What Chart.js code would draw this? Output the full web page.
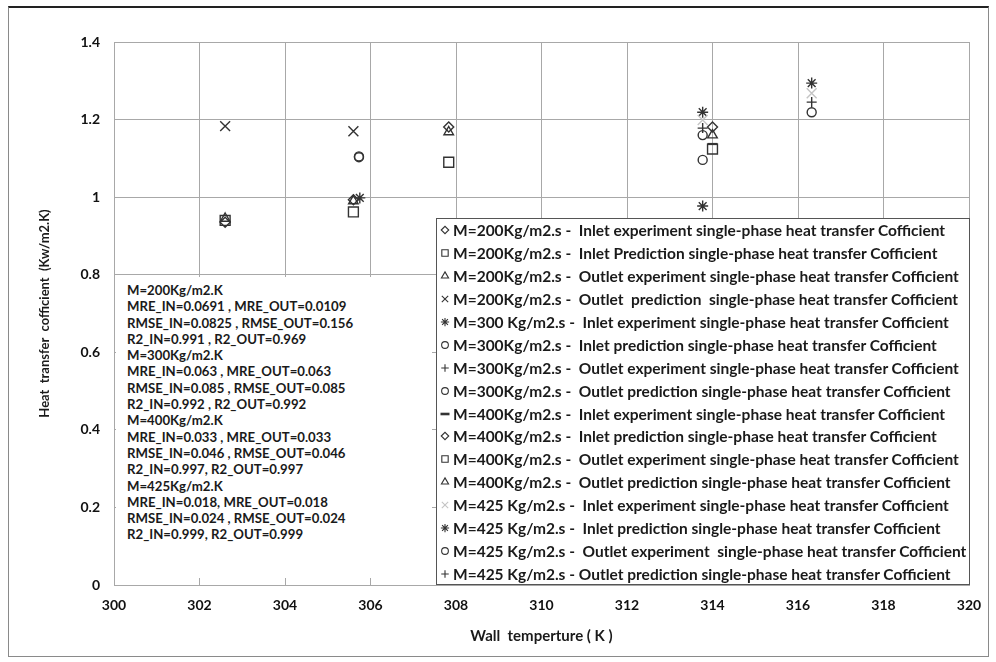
<!DOCTYPE html>
<html>
<head>
<meta charset="utf-8">
<script src="https://cdn.jsdelivr.net/npm/chart.js@4.4.1/dist/chart.umd.min.js"></script>
<style>
    html, body { margin: 0; padding: 0; background: #fff; }
    #wrap { position: relative; width: 996px; height: 662px; overflow: hidden; }
    #chart { position: absolute; left: 0; top: 0; }
    #frame { position: absolute; left: 8px; top: 6px; width: 979px; height: 648px; border: 1px solid #8a8a8a; border-top: 2px solid #222; pointer-events: none; }
    #stats { position: absolute; left: 116px; top: 277px; width: 316px; height: 301px; background: #fff;
             font: bold 13.2px Lato, sans-serif; line-height: 16.3px; color: #1a1a1a; padding: 5px 0 0 11px; box-sizing: border-box; white-space: pre; }
    #legend { position: absolute; left: 436px; top: 218px; width: 534px; height: 367px; background: #fff;
              border: 1px solid #555; box-sizing: border-box; font: bold 15.5px Lato, sans-serif; color: #1a1a1a; padding-top: 0px; }
    .row { height: 22.9px; display: flex; align-items: center; white-space: pre; }
    .row canvas { margin: 0 2px 0 2px; }
</style>
</head>
<body>
<div id="wrap">
    <canvas id="chart" width="996" height="662"></canvas>
    <div id="stats"></div>
    <div id="legend"></div>
    <div id="frame"></div>
</div>
<script>
    // axis ticks
    const xTickLabels = ['300', '302', '304', '306', '308', '310', '312', '314', '316', '318', '320'];
    const yTickLabels = ['0', '0.2', '0.4', '0.6', '0.8', '1', '1.2', '1.4'];

    // [wall temperature (K), heat transfer coefficient (kW/m2.K)]
    const m200InletExp   = [[302.6, 0.935], [305.6, 0.993]];
    const m200InletPred  = [[302.6, 0.94], [305.6, 0.962]];
    const m200OutletExp  = [[302.6, 0.945], [305.6, 0.99]];
    const m200OutletPred = [[302.6, 1.183], [305.6, 1.17]];
    const m300InletExp   = [[305.75, 0.998], [313.77, 0.977]];
    const m300InletPred  = [[305.73, 1.103], [313.77, 1.096]];
    const m300OutletExp  = [[313.77, 1.178]];
    const m300OutletPred = [[305.73, 1.105], [313.77, 1.16]];
    const m400InletExp   = [[314.0, 1.137]];
    const m400InletPred  = [[307.83, 1.181], [314.0, 1.181]];
    const m400OutletExp  = [[307.83, 1.09], [314.0, 1.124]];
    const m400OutletPred = [[307.83, 1.168], [314.0, 1.16]];
    const m425InletExp   = [[313.77, 1.199], [316.32, 1.268]];
    const m425InletPred  = [[313.77, 1.219], [316.32, 1.294]];
    const m425OutletExp  = [[316.32, 1.219]];
    const m425OutletPred = [[316.32, 1.245]];

    const seriesLabels = [
        'M=200Kg/m2.s -  Inlet experiment single-phase heat transfer Cofficient',
        'M=200Kg/m2.s -  Inlet Prediction single-phase heat transfer Cofficient',
        'M=200Kg/m2.s -  Outlet experiment single-phase heat transfer Cofficient',
        'M=200Kg/m2.s -  Outlet  prediction  single-phase heat transfer Cofficient',
        'M=300 Kg/m2.s -  Inlet experiment single-phase heat transfer Cofficient',
        'M=300Kg/m2.s -  Inlet prediction single-phase heat transfer Cofficient',
        'M=300Kg/m2.s -  Outlet experiment single-phase heat transfer Cofficient',
        'M=300Kg/m2.s -  Outlet prediction single-phase heat transfer Cofficient',
        'M=400Kg/m2.s -  Inlet experiment single-phase heat transfer Cofficient',
        'M=400Kg/m2.s -  Inlet prediction single-phase heat transfer Cofficient',
        'M=400Kg/m2.s -  Outlet experiment single-phase heat transfer Cofficient',
        'M=400Kg/m2.s -  Outlet prediction single-phase heat transfer Cofficient',
        'M=425 Kg/m2.s -  Inlet experiment single-phase heat transfer Cofficient',
        'M=425 Kg/m2.s -  Inlet prediction single-phase heat transfer Cofficient',
        'M=425 Kg/m2.s -  Outlet experiment  single-phase heat transfer Cofficient',
        'M=425 Kg/m2.s - Outlet prediction single-phase heat transfer Cofficient'
    ];
    const seriesData = [m200InletExp, m200InletPred, m200OutletExp, m200OutletPred,
                        m300InletExp, m300InletPred, m300OutletExp, m300OutletPred,
                        m400InletExp, m400InletPred, m400OutletExp, m400OutletPred,
                        m425InletExp, m425InletPred, m425OutletExp, m425OutletPred];

    const statsLines = [
        'M=200Kg/m2.K',
        'MRE_IN=0.0691 , MRE_OUT=0.0109',
        'RMSE_IN=0.0825 , RMSE_OUT=0.156',
        'R2_IN=0.991 , R2_OUT=0.969',
        'M=300Kg/m2.K',
        'MRE_IN=0.063 , MRE_OUT=0.063',
        'RMSE_IN=0.085 , RMSE_OUT=0.085',
        'R2_IN=0.992 , R2_OUT=0.992',
        'M=400Kg/m2.K',
        'MRE_IN=0.033 , MRE_OUT=0.033',
        'RMSE_IN=0.046 , RMSE_OUT=0.046',
        'R2_IN=0.997, R2_OUT=0.997',
        'M=425Kg/m2.K',
        'MRE_IN=0.018, MRE_OUT=0.018',
        'RMSE_IN=0.024 , RMSE_OUT=0.024',
        'R2_IN=0.999, R2_OUT=0.999'
    ];

    // marker look per series
    const markerStyles = [
        { style: 'rectRot', r: 5 }, { style: 'rect', r: 7 }, { style: 'triangle', r: 5.5 }, { style: 'crossRot', r: 7 },
        { style: 'star', r: 5.5 }, { style: 'circle', r: 4.5 }, { style: 'cross', r: 5 }, { style: 'circle', r: 4.5 },
        { style: 'line', r: 5, w: 2.2 }, { style: 'rectRot', r: 5 }, { style: 'rect', r: 7 }, { style: 'triangle', r: 5.5 },
        { style: 'crossRot', r: 7 }, { style: 'star', r: 5.5 }, { style: 'circle', r: 4.5 }, { style: 'cross', r: 5 }
    ];
    const markerColor = '#333';
    const lightColor = '#c4c4c4';

    const datasets = seriesData.map((pts, i) => ({
        label: seriesLabels[i],
        data: pts.map(p => ({ x: p[0], y: p[1] })),
        showLine: false,
        pointStyle: markerStyles[i].style,
        pointRadius: markerStyles[i].r,
        pointBorderWidth: markerStyles[i].w || 1.4,
        pointBorderColor: i === 12 ? lightColor : markerColor,
        pointBackgroundColor: 'rgba(0,0,0,0)'
    }));

    const tickFont = { family: 'Lato', weight: 'bold', size: 14 };
    const gridColor = '#a8a8a8';

    new Chart(document.getElementById('chart').getContext('2d'), {
        type: 'scatter',
        data: { datasets: datasets },
        options: {
            responsive: false,
            animation: false,
            layout: { padding: { top: 42, right: 27, left: 0, bottom: 0 } },
            plugins: { legend: { display: false }, tooltip: { enabled: false } },
            scales: {
                x: {
                    type: 'linear', min: 300, max: 320,
                    afterFit: s => { s.height = 77; },
                    ticks: { stepSize: 2, padding: 12, font: tickFont, color: '#111',
                             callback: (v, i) => xTickLabels[i] },
                    grid: { color: gridColor, drawTicks: false },
                    border: { color: gridColor },
                    title: { display: true, text: 'Wall  temperture ( K )', font: { family: 'Lato', weight: 'bold', size: 15 },
                             color: '#1a1a1a', padding: { top: 0, bottom: 17 } }
                },
                y: {
                    type: 'linear', min: 0, max: 1.4,
                    afterFit: s => { s.width = 114; },
                    ticks: { stepSize: 0.2, padding: 14, font: tickFont, color: '#111',
                             callback: (v, i) => yTickLabels[i] },
                    grid: { color: gridColor, drawTicks: false },
                    border: { color: gridColor },
                    title: { display: true, text: 'Heat  transfer  cofficient  (Kw/m2.K)', font: { family: 'Lato', weight: 'bold', size: 13 },
                             color: '#1a1a1a', padding: { top: 37, bottom: 0 } }
                }
            }
        }
    });

    // stats text box
    document.getElementById('stats').textContent = statsLines.join('\n');

    // legend box
    const legendDiv = document.getElementById('legend');
    seriesLabels.forEach((label, i) => {
        const row = document.createElement('div');
        row.className = 'row';
        const sym = document.createElement('canvas');
        sym.width = 12; sym.height = 14;
        const sctx = sym.getContext('2d');
        sctx.strokeStyle = i === 12 ? lightColor : markerColor;
        sctx.fillStyle = 'rgba(0,0,0,0)';
        const bw = markerStyles[i].w ? 2.6 : 1.1;
        sctx.lineWidth = bw;
        const r = markerStyles[i].w ? 4.5 : Math.min(markerStyles[i].r * 0.75, 4.5);
        if (Chart.helpers && Chart.helpers.drawPoint) {
            Chart.helpers.drawPoint(sctx, { pointStyle: markerStyles[i].style, radius: r, rotation: 0, borderWidth: bw }, 6, 7);
        }
        row.appendChild(sym);
        const txt = document.createElement('span');
        txt.textContent = label;
        row.appendChild(txt);
        legendDiv.appendChild(row);
    });
</script>
</body>
</html>
